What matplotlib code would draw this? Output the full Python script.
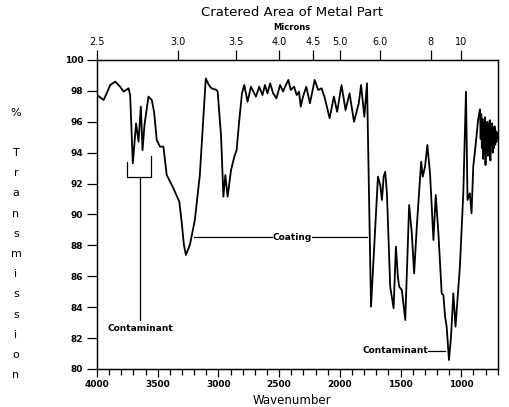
import numpy as np
import matplotlib
matplotlib.use("Agg")
import matplotlib.pyplot as plt
from matplotlib import font_manager
from matplotlib.ticker import MultipleLocator

# IR spectrum, transmission (%) vs wavenumber (cm-1)
wavenumber = [
    4000, 3945, 3891, 3850, 3809, 3781, 3740, 3727, 3705, 3678,
    3658, 3639, 3625, 3609, 3576, 3549, 3530, 3508, 3481, 3453,
    3426, 3371, 3322, 3303, 3284, 3268, 3235, 3194, 3153, 3104,
    3080, 3057, 3016, 3006, 2978, 2959, 2943, 2924, 2896, 2869,
    2850, 2828, 2806, 2787, 2760, 2732, 2691, 2664, 2637, 2617,
    2596, 2574, 2549, 2522, 2492, 2467, 2451, 2424, 2404, 2377,
    2355, 2336, 2322, 2303, 2276, 2246, 2207, 2178, 2150, 2123,
    2084, 2049, 2022, 1986, 1953, 1920, 1883, 1844, 1825, 1798,
    1776, 1743, 1686, 1667, 1653, 1639, 1626, 1612, 1585, 1557,
    1538, 1522, 1511, 1489, 1461, 1429, 1407, 1388, 1366, 1330,
    1317, 1298, 1279, 1257, 1229, 1210, 1188, 1161, 1147, 1133,
    1120, 1101, 1084, 1065, 1047, 1011, 983, 961, 948, 929,
    915, 901, 880, 861, 847,
    845, 840, 835, 830, 825, 820, 815, 810, 805, 800,
    795, 790, 785, 780, 775, 770, 765, 760, 755, 750,
    745, 740, 735, 730, 725, 720, 715, 710, 705, 700,
]
transmission = [
    97.73, 97.41, 98.38, 98.60, 98.27, 97.95, 98.17, 97.73, 93.31, 95.90,
    94.71, 96.98, 94.17, 95.79, 97.63, 97.41, 96.65, 94.82, 94.39, 94.39,
    92.56, 91.70, 90.83, 89.53, 88.03, 87.38, 88.03, 89.64, 92.56, 98.81,
    98.40, 98.17, 98.06, 97.95, 95.04, 91.15, 92.56, 91.15, 92.88, 93.74,
    94.17, 96.12, 97.84, 98.38, 97.30, 98.27, 97.63, 98.27, 97.73, 98.38,
    97.84, 98.49, 97.84, 97.52, 98.38, 97.95, 98.27, 98.71, 98.06, 98.27,
    97.73, 97.95, 96.98, 97.63, 98.27, 97.20, 98.71, 98.06, 98.17, 97.52,
    96.23, 97.63, 96.65, 98.38, 96.76, 97.84, 96.00, 97.20, 98.38, 96.33,
    98.49, 84.03, 92.45, 91.90, 90.94, 92.45, 92.77, 91.37, 85.33, 83.93,
    87.92, 85.97, 85.33, 85.11, 83.17, 90.61, 88.78, 86.19, 89.21, 93.42,
    92.45, 93.10, 94.50, 92.67, 88.35, 91.26, 88.78, 84.90, 84.79, 83.39,
    82.74, 80.58, 82.09, 84.90, 82.74, 86.62, 91.37, 97.95, 90.94, 91.37,
    90.08, 93.10, 94.61, 96.12, 96.76,
    96.8, 94.9, 96.5, 94.3, 96.2, 93.6, 95.9, 94.0, 96.3, 93.2,
    95.6, 94.2, 96.0, 93.8, 95.8, 94.4, 96.1, 93.5, 95.5, 94.6,
    95.9, 94.0, 95.6, 94.3, 95.7, 94.5, 95.4, 94.7, 95.3, 95.0,
]

micron_ticks = [2.5, 3.0, 3.5, 4.0, 4.5, 5.0, 6.0, 8, 10]
micron_labels = ["2.5", "3.0", "3.5", "4.0", "4.5", "5.0", "6.0", "8", "10"]
ylabel_letters = list("Transmission")

names = {f.name for f in font_manager.fontManager.ttflist}
narrow = "Liberation Sans Narrow" if "Liberation Sans Narrow" in names else "DejaVu Sans"
tick_font = dict(family=narrow, weight="bold", size=6.5)

fig = plt.figure(figsize=(5.10, 4.07), dpi=100)
ax = fig.add_axes([0.1902, 0.0934, 0.7863, 0.7592])

ax.plot(wavenumber, transmission, color="black", lw=1.3)

ax.set_xlim(4000, 697)
ax.set_ylim(80, 100)
ax.xaxis.set_major_locator(MultipleLocator(500))
ax.xaxis.set_minor_locator(MultipleLocator(100))
ax.yaxis.set_major_locator(MultipleLocator(2))
ax.tick_params(axis="x", which="major", length=6, width=0.9, pad=2)
ax.tick_params(axis="x", which="minor", length=4.3, width=0.9)
ax.tick_params(axis="y", length=7, width=0.9, pad=3)
for lbl in ax.get_xticklabels() + ax.get_yticklabels():
    lbl.set_fontproperties(font_manager.FontProperties(**tick_font))
for sp in ax.spines.values():
    sp.set_linewidth(1.0)

# micron scale along the top
ax2 = ax.twiny()
ax2.set_xlim(ax.get_xlim())
ax2.set_xticks([10000.0 / m for m in micron_ticks])
ax2.set_xticklabels(micron_labels)
ax2.tick_params(axis="x", length=7, width=0.9, pad=2)
for lbl in ax2.get_xticklabels():
    lbl.set_fontproperties(font_manager.FontProperties(family=narrow, size=7))

# annotations
ann = dict(family=narrow, weight="bold", size=6.5)
ax.plot([3754, 3754, 3557, 3557], [93.4, 92.43, 92.43, 93.8], color="black", lw=0.9)
ax.plot([3648, 3648], [92.43, 83.2], color="black", lw=0.9)
ax.text(3640, 82.65, "Contaminant", ha="center", va="center", **ann)

ax.plot([3197, 2557], [88.54, 88.54], color="black", lw=0.9)
ax.plot([2230, 1779], [88.54, 88.54], color="black", lw=0.9)
ax.text(2393, 88.54, "Coating", ha="center", va="center", **ann)

ax.plot([1270, 1131], [81.17, 81.17], color="black", lw=0.9)
ax.text(1270, 81.17, "Contaminant", ha="right", va="center", **ann)

fig.text(0.5725, 1 - 12 / 407, "Cratered Area of Metal Part", ha="center", va="center",
         fontsize=9.5)
fig.text(0.5725, 1 - 28 / 407, "Microns", ha="center", va="center",
         family=narrow, weight="bold", fontsize=6)
fig.text(0.5725, 1 - 401 / 407, "Wavenumber", ha="center", va="center", fontsize=8.5)

# vertical stacked y label
lx = 16 / 510
fig.text(lx, 1 - 113 / 407, "%", ha="center", va="center", fontsize=8)
for i, ch in enumerate(ylabel_letters):
    fig.text(lx, 1 - (153 + 20.2 * i) / 407, ch, ha="center", va="center", fontsize=8)

fig.savefig("out.png", dpi=100)
